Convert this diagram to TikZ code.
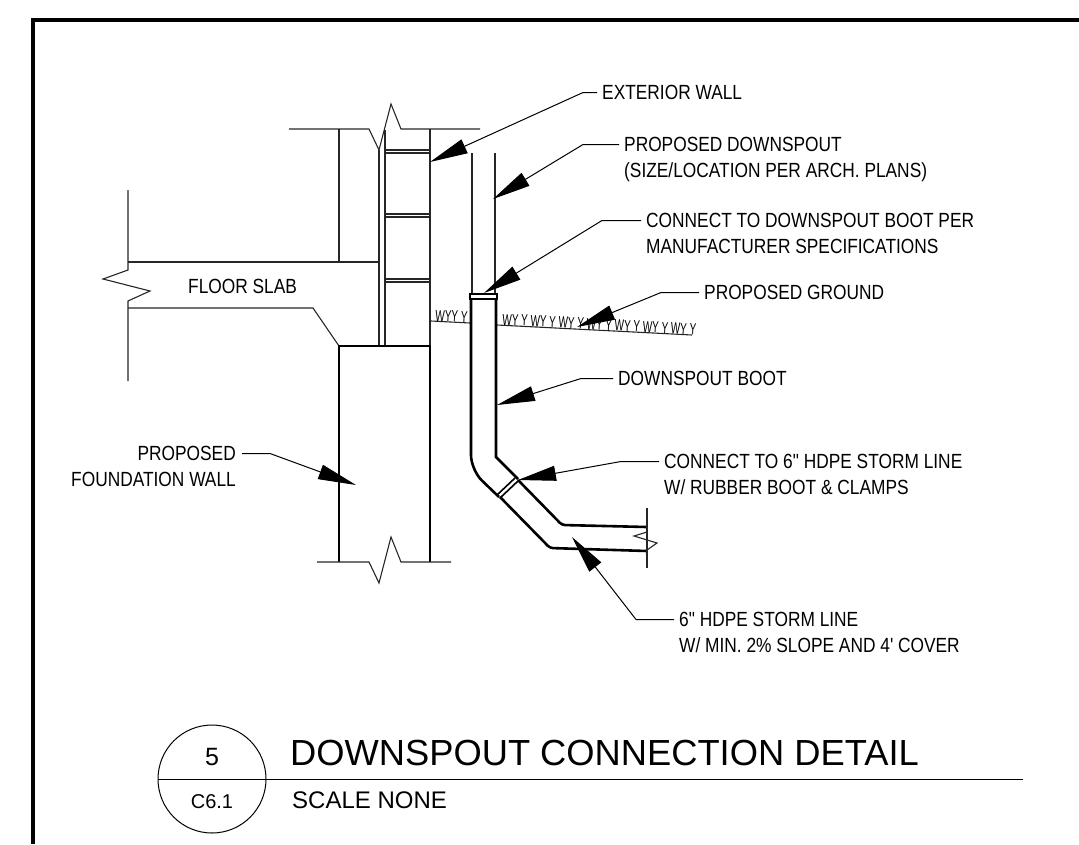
\documentclass[tikz,border=0pt]{standalone}
\usepackage{fontspec}
\setmainfont{Liberation Sans}
\newfontfamily\notefont[FakeStretch=0.845]{Liberation Sans}
\newfontfamily\grassfont[FakeStretch=0.62]{Liberation Sans}
\usetikzlibrary{arrows.meta}
\tikzset{
	wall/.style={line width=1.1pt,black!85},
	heavy/.style={line width=2.6pt,black},
	note/.style={inner sep=0pt,align=left,anchor=north west,font=\notefont\fontsize{20.5}{26}\selectfont},
	leader/.style={line width=1pt,-{Triangle[length=38pt,width=15pt]}},
	grass/.style={inner sep=0pt,anchor=base west,rotate=-3,font=\grassfont\fontsize{16}{16}\selectfont}
}
\begin{document}
\begin{tikzpicture}[x=1pt,y=-1pt]
	\useasboundingbox (0,0) rectangle (1079,844);
	% sheet border
	\draw[line width=4pt] (33,844) -- (33,20) -- (1079,20);

	% building above grade
	\draw[wall] (289,129) -- (369,129) -- (379,150) -- (391,104) -- (401,129) -- (480,129);
	\draw[wall] (339,129) -- (339,262);
	\draw[wall] (379,150) -- (379,346);
	\draw[wall] (385,130) -- (385,346);
	\draw[wall] (430,129) -- (430,346);
	\foreach \y in {150,214,279} {
		\draw[wall] (385,\y) -- (430,\y);
		\draw[wall] (385,\y+3) -- (430,\y+3);
	}

	% floor slab
	\draw[wall] (128,190) -- (128,270) -- (103,279) -- (150,291) -- (128,301) -- (128,381);
	\draw[wall] (128,262) -- (379,262);
	\draw[wall] (128,308) -- (313,308) -- (339,346);
	\node[note] (slab) at (188,279) {FLOOR SLAB};

	% foundation wall
	\draw[heavy] (339,562) -- (339,346) -- (430,346) -- (430,562);
	\draw[wall] (317,562) -- (369,562) -- (379,583) -- (391,537) -- (401,562) -- (451,562);

	% ground
	\draw[wall] (431,321) -- (470,323);
	\draw[wall] (497,325) -- (692,335);
	\node[grass] (grassa) at (435,321) {WYY Y};
	\node[grass] (grassb) at (502,325) {WY Y WY Y WY Y WY Y WY Y WY Y WY Y};

	% downspout
	\draw[wall] (472,153) -- (472,294);
	\draw[wall] (495,153) -- (495,294);
	\draw[line width=2pt,fill=white] (470,294) rectangle (497,299);
	\draw[heavy,rounded corners=15pt] (471,299) -- (471,470) -- (499,497);
	\draw[heavy] (496,299) -- (496,457) -- (518,479);
	\draw[heavy,rounded corners=3pt] (500,497) -- (550,548) -- (647,551);
	\draw[heavy,rounded corners=3pt] (518,480) -- (562,525) -- (647,527);
	\draw[line width=1.6pt] (497,495) -- (515,478);
	\draw[line width=1.6pt] (500,498) -- (518,481);
	\draw[wall] (647,508) -- (647,568);
	\draw[wall] (647,532) -- (634,536) -- (657,543) -- (647,550);

	% notes
	\node[note] (wallnote) at (602,85) {EXTERIOR WALL};
	\node[note] (spoutnote) at (624,137) {PROPOSED DOWNSPOUT\\(SIZE/LOCATION PER ARCH. PLANS)};
	\node[note] (bootnote) at (646,213) {CONNECT TO DOWNSPOUT BOOT PER\\MANUFACTURER SPECIFICATIONS};
	\node[note] (groundnote) at (704,285) {PROPOSED GROUND};
	\node[note] (bootlabel) at (618,371) {DOWNSPOUT BOOT};
	\node[note] (stormnote) at (664,454) {CONNECT TO 6" HDPE STORM LINE\\W/ RUBBER BOOT \& CLAMPS};
	\node[note] (linenote) at (679,612) {6" HDPE STORM LINE\\W/ MIN. 2\% SLOPE AND 4' COVER};
	\node[note,align=right,anchor=north east] (foundnote) at (236,446) {PROPOSED\\FOUNDATION WALL};

	% leaders
	\coordinate (wallpt) at (430,162);
	\coordinate (spoutpt) at (493,199);
	\coordinate (bootpt) at (484,293);
	\coordinate (groundpt) at (577,327);
	\coordinate (boottip) at (497,405);
	\coordinate (stormpt) at (518,480);
	\coordinate (linept) at (572,537);
	\coordinate (foundpt) at (356,485);
	\draw[leader] ([shift={(-5,7.5)}]wallnote.north west) -- (583,92.5) -- (wallpt);
	\draw[leader] ([shift={(-5,7.5)}]spoutnote.north west) -- (583,144.5) -- (spoutpt);
	\draw[leader] ([shift={(-5,7.5)}]bootnote.north west) -- (602,220.5) -- (bootpt);
	\draw[leader] ([shift={(-5,7.5)}]groundnote.north west) -- (661,292.5) -- (groundpt);
	\draw[leader] ([shift={(-5,7.5)}]bootlabel.north west) -- (581,378.5) -- (boottip);
	\draw[leader] ([shift={(-5,7.5)}]stormnote.north west) -- (621,461.5) -- (stormpt);
	\draw[leader] ([shift={(-5,7.5)}]linenote.north west) -- (636,619.5) -- (linept);
	\draw[leader] ([shift={(6,7.5)}]foundnote.north east) -- (270,453.5) -- (foundpt);

	% title block
	\node[draw,circle,minimum size=108pt,inner sep=0pt,line width=1pt] (bubble) at (212,779) {};
	\draw[line width=1pt] (bubble.west) -- (1023,779);
	\node[inner sep=0pt,anchor=base,font=\fontsize{25}{25}\selectfont] (num) at (212,765) {5};
	\node[inner sep=0pt,anchor=base,font=\fontsize{20}{20}\selectfont] (sheet) at (212,808) {C6.1};
	\node[inner sep=0pt,anchor=base west,font=\fontsize{36.3}{36.3}\selectfont] (title) at (290,765) {DOWNSPOUT CONNECTION DETAIL};
	\node[inner sep=0pt,anchor=base west,font=\fontsize{24}{24}\selectfont] (scale) at (292,808) {SCALE NONE};
\end{tikzpicture}
\end{document}
